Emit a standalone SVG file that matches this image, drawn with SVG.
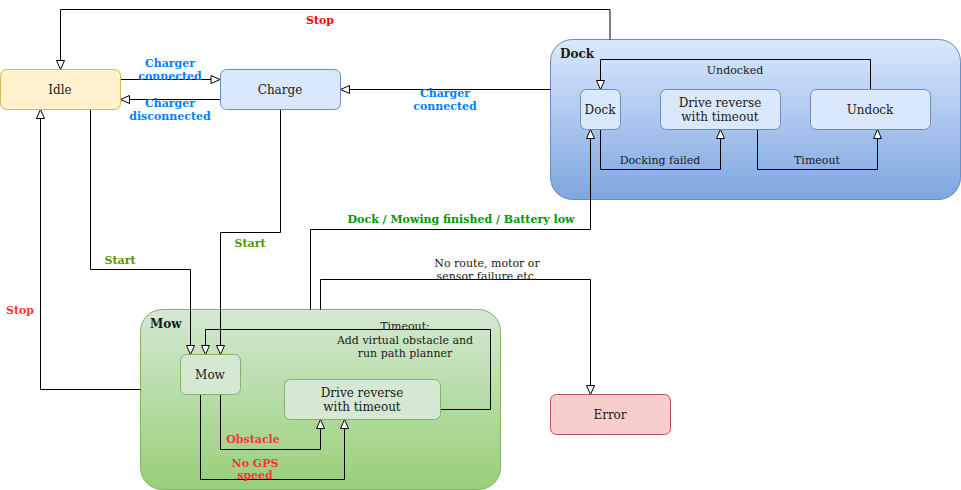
<svg xmlns="http://www.w3.org/2000/svg" width="961" height="490" viewBox="0 0 961 490">
<defs>
<linearGradient id="gDock" x1="0" y1="0" x2="0" y2="1"><stop offset="0" stop-color="#dae8fc"/><stop offset="1" stop-color="#7ea6e0"/></linearGradient>
<linearGradient id="gMow" x1="0" y1="0" x2="0" y2="1"><stop offset="0" stop-color="#d5e8d4"/><stop offset="1" stop-color="#97d077"/></linearGradient>
<marker id="arr" markerUnits="userSpaceOnUse" markerWidth="12" markerHeight="10" refX="10" refY="5" orient="auto" viewBox="0 0 12 10">
<path d="M1,1 L10,5 L1,9 Z" fill="#fff" stroke="#000" stroke-width="1"/>
</marker>
</defs>
<style>
text{font-family:"DejaVu Serif",serif;fill:#1a1a1a}
.n{font-size:12px;text-anchor:middle}
.e{font-size:11px;text-anchor:middle}
.b{font-weight:bold}
.blue{fill:#007fff}
.red{fill:#ff0000}
.red2{fill:#ff3333}
.grn{fill:#4d9900}
.grn2{fill:#009900}
.c{fill:none;stroke:#000;stroke-width:1;marker-end:url(#arr)}
.blueN{fill:#dae8fc;stroke:#6c8ebf}
.greenN{fill:#d5e8d4;stroke:#82b366}
</style>
<rect width="961" height="490" fill="#fff"/>

<g id="dock-group">
<rect x="550.5" y="39.5" width="410" height="160" rx="22" fill="url(#gDock)" stroke="#6c8ebf"/>
<text x="560" y="58" class="b" font-size="12">Dock</text>
</g>
<g id="mow-group">
<rect x="140.5" y="309.5" width="360" height="180" rx="22" fill="url(#gMow)" stroke="#82b366"/>
<text x="150" y="328" class="b" font-size="12">Mow</text>
</g>

<g id="connectors">
<polyline class="c" points="610,39.5 610,9.5 60.5,9.5 60.5,69.5"/>
<polyline class="c" points="120.5,79.5 220,79.5"/>
<polyline class="c" points="220,99.5 120.5,99.5"/>
<polyline class="c" points="550.5,89.5 340.5,89.5"/>
<polyline class="c" points="870.5,89.5 870.5,59.5 600.5,59.5 600.5,89.5"/>
<polyline class="c" points="600.5,129.5 600.5,169.5 720.5,169.5 720.5,129.5"/>
<polyline class="c" points="757.5,129.5 757.5,169.5 877.5,169.5 877.5,129.5"/>
<polyline class="c" points="280.5,109.5 280.5,232.5 220.5,232.5 220.5,354.5"/>
<polyline class="c" points="90.5,109.5 90.5,269.5 190.5,269.5 190.5,354.5"/>
<polyline class="c" points="440.5,409.5 490.5,409.5 490.5,329.5 205.5,329.5 205.5,354.5"/>
<polyline class="c" points="220.5,394.5 220.5,449.5 320.5,449.5 320.5,419.5"/>
<polyline class="c" points="200.5,394.5 200.5,479.5 344.5,479.5 344.5,419.5"/>
<polyline class="c" points="140.5,389.5 40.5,389.5 40.5,109.5"/>
<polyline class="c" points="310.5,309.5 310.5,229.5 590.5,229.5 590.5,129.5"/>
<polyline class="c" points="320.5,309.5 320.5,279.5 590.5,279.5 590.5,394.5"/>
</g>

<g id="edge-labels">
<text x="320" y="24" class="e b red">Stop</text>
<text x="170" y="67" class="e b blue">Charger</text>
<text x="170" y="80" class="e b blue">connected</text>
<text x="170" y="107" class="e b blue">Charger</text>
<text x="170" y="120" class="e b blue">disconnected</text>
<text x="445" y="97" class="e b blue">Charger</text>
<text x="445" y="110" class="e b blue">connected</text>
<text x="735" y="74" class="e">Undocked</text>
<text x="660" y="164" class="e">Docking failed</text>
<text x="817" y="164" class="e">Timeout</text>
<text x="250" y="247" class="e b grn">Start</text>
<text x="120" y="264" class="e b grn">Start</text>
<text x="20" y="314" class="e b red2">Stop</text>
<text x="461" y="223" class="e b grn2">Dock / Mowing finished / Battery low</text>
<text x="487" y="267" class="e">No route, motor or</text>
<text x="487" y="280" class="e">sensor failure etc.</text>
<text x="405" y="330" class="e">Timeout:</text>
<text x="405" y="344" class="e">Add virtual obstacle and</text>
<text x="405" y="357" class="e">run path planner</text>
<text x="253" y="443" class="e b red2">Obstacle</text>
<text x="255" y="467" class="e b red2">No GPS</text>
<text x="255" y="479" class="e b red2">speed</text>
</g>

<g id="idle"><rect x="0.5" y="69.5" width="120" height="40" rx="6" fill="#fff2cc" stroke="#d6b656"/><text x="60" y="94" class="n">Idle</text></g>
<g id="charge"><rect x="220.5" y="69.5" width="120" height="40" rx="6" class="blueN"/><text x="280" y="94" class="n">Charge</text></g>
<g id="dock"><rect x="580.5" y="89.5" width="40" height="40" rx="6" class="blueN"/><text x="600" y="114" class="n">Dock</text></g>
<g id="dock-drive-reverse"><rect x="660.5" y="89.5" width="120" height="40" rx="6" class="blueN"/><text x="720" y="107" class="n">Drive reverse</text><text x="720" y="121" class="n">with timeout</text></g>
<g id="undock"><rect x="810.5" y="89.5" width="120" height="40" rx="6" class="blueN"/><text x="870" y="114" class="n">Undock</text></g>
<g id="mow"><rect x="180.5" y="354.5" width="60" height="40" rx="6" class="greenN"/><text x="210" y="379" class="n">Mow</text></g>
<g id="mow-drive-reverse"><rect x="284.5" y="379.5" width="156" height="40" rx="6" class="greenN"/><text x="362" y="397" class="n">Drive reverse</text><text x="362" y="411" class="n">with timeout</text></g>
<g id="error"><rect x="550.5" y="394.5" width="120" height="40" rx="6" fill="#f8cecc" stroke="#b85450"/><text x="610" y="419" class="n">Error</text></g>
</svg>
